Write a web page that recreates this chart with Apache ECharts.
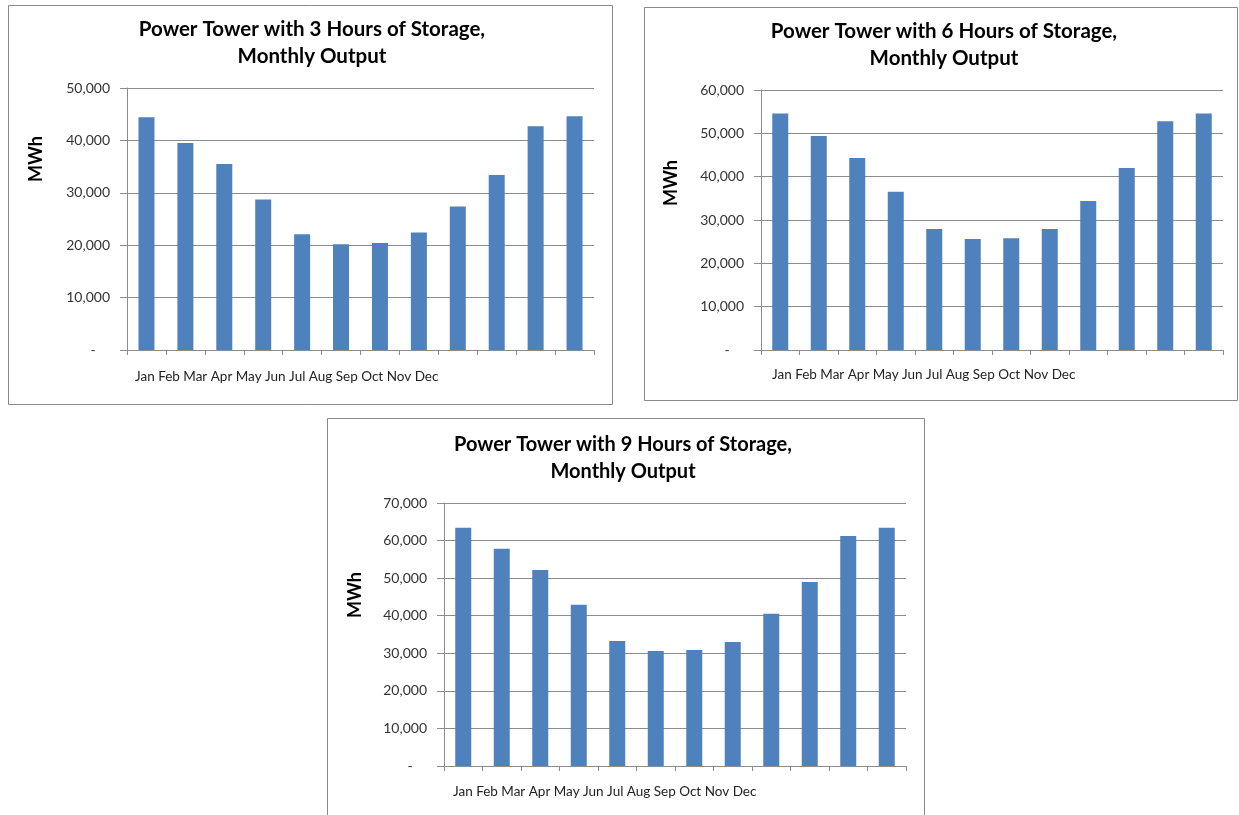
<!DOCTYPE html>
<html>
<head>
<meta charset="utf-8">
<script src="https://cdn.jsdelivr.net/npm/echarts@6/dist/echarts.min.js"></script>
<style>
  html, body { margin: 0; padding: 0; background: #fff; }
  #chart { width: 1239px; height: 815px; }
</style>
</head>
<body>
<div id="chart"></div>
<script>
// Monthly output (MWh) of a power tower plant at three thermal storage sizes
const months = ['Jan', 'Feb', 'Mar', 'Apr', 'May', 'Jun', 'Jul', 'Aug', 'Sep', 'Oct', 'Nov', 'Dec'];
const storage3h = [44400, 39500, 35500, 28700, 22100, 20200, 20400, 22400, 27400, 33400, 42700, 44600];
const storage6h = [54600, 49400, 44300, 36500, 27900, 25600, 25800, 27900, 34400, 42000, 52800, 54600];
const storage9h = [63400, 57800, 52200, 42900, 33300, 30600, 30900, 33000, 40500, 49000, 61200, 63400];
const titles = [
  'Power Tower with 3 Hours of Storage,\nMonthly Output',
  'Power Tower with 6 Hours of Storage,\nMonthly Output',
  'Power Tower with 9 Hours of Storage,\nMonthly Output'
];
const yMax = [50000, 60000, 70000];
const yName = 'MWh';

const FONT = 'Lato, "Open Sans", sans-serif';
const BAR = '#4F81BD';
const GRID_LINE = '#8c8c8c';

// Layout of each framed panel
const panels = [
  { frame: [8, 5, 604, 399], grid: { left: 127, top: 88, width: 467, height: 262 }, xOffset: 0,
    title: [312, 43], titleSize: 20.5, name: [36, 159], months: [135, 377] },
  { frame: [644, 7, 593, 393], grid: { left: 761, top: 90, width: 462, height: 260 }, xOffset: 7,
    title: [944, 45], titleSize: 20.5, name: [671, 183], months: [772, 375] },
  { frame: [327, 418, 597, 420], grid: { left: 444, top: 503, width: 462, height: 263 }, xOffset: 0,
    title: [623, 458], titleSize: 20, name: [355, 595], months: [453, 792] }
];
const seriesData = [storage3h, storage6h, storage9h];

function fmt(v) {
  if (v === 0) return '-    ';
  return v.toString().replace(/\B(?=(\d{3})+(?!\d))/g, ',');
}

const grids = [], xAxes = [], yAxes = [], series = [], graphics = [];
panels.forEach((p, i) => {
  grids.push(Object.assign({ containLabel: false }, p.grid));
  xAxes.push({
    type: 'category', gridIndex: i, data: months, offset: p.xOffset,
    axisLine: { lineStyle: { color: GRID_LINE, width: 1 } },
    axisTick: { show: true, alignWithLabel: false, length: 5, lineStyle: { color: GRID_LINE } },
    axisLabel: { show: false }
  });
  yAxes.push({
    type: 'value', gridIndex: i, min: 0, max: yMax[i], interval: 10000,
    axisLine: { show: true, lineStyle: { color: GRID_LINE, width: 1 } },
    axisTick: { show: true, length: 7, lineStyle: { color: GRID_LINE } },
    splitLine: { show: true, lineStyle: { color: GRID_LINE, width: 1 } },
    axisLabel: { color: '#333', fontFamily: FONT, fontSize: 14, margin: 17, formatter: fmt }
  });
  series.push({
    type: 'bar', xAxisIndex: i, yAxisIndex: i, data: seriesData[i],
    barWidth: 16, itemStyle: { color: BAR }, silent: true
  });
  const f = p.frame;
  graphics.push({
    type: 'rect', shape: { x: f[0] + 0.5, y: f[1] + 0.5, width: f[2], height: f[3] },
    style: { fill: null, stroke: '#8a8a8a', lineWidth: 1 }, z: -1
  });
  graphics.push({
    type: 'text', x: p.title[0], y: p.title[1],
    style: { text: titles[i], textAlign: 'center', textVerticalAlign: 'middle',
             font: 'bold ' + p.titleSize + 'px ' + FONT, fill: '#000', lineHeight: 27 }
  });
  graphics.push({
    type: 'text', x: p.name[0], y: p.name[1], rotation: Math.PI / 2,
    style: { text: yName, textAlign: 'center', textVerticalAlign: 'middle',
             font: 'bold 18px ' + FONT, fill: '#000' }
  });
  graphics.push({
    type: 'text', x: p.months[0], y: p.months[1],
    style: { text: months.join(' '), textAlign: 'left', textVerticalAlign: 'middle',
             font: '13.5px ' + FONT, fill: '#222' }
  });
});

const chart = echarts.init(document.getElementById('chart'), null, { renderer: 'canvas' });
chart.setOption({
  animation: false,
  backgroundColor: '#fff',
  grid: grids,
  xAxis: xAxes,
  yAxis: yAxes,
  series: series,
  graphic: graphics
});
</script>
</body>
</html>
